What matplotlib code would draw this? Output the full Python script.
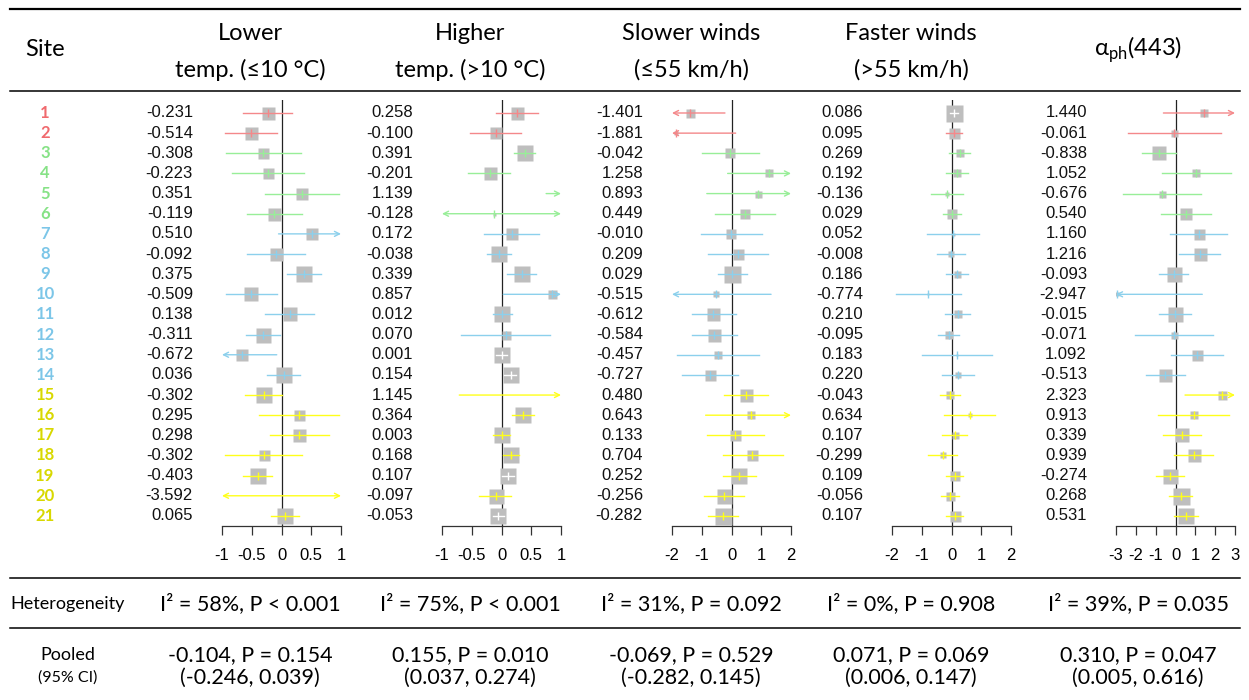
import numpy as np
import matplotlib.pyplot as plt
from matplotlib.lines import Line2D
from matplotlib.transforms import blended_transform_factory, ScaledTranslation

plt.rcParams['font.family'] = ['Lato', 'DejaVu Sans']
plt.rcParams['mathtext.fontset'] = 'custom'
plt.rcParams['mathtext.rm'] = 'Lato'

# ---- data ----
sites = list(range(1, 22))
site_group = ['r'] * 2 + ['g'] * 4 + ['b'] * 8 + ['y'] * 7

headers = ['Lower\ntemp. (≤10 °C)', 'Higher\ntemp. (>10 °C)', 'Slower winds\n(≤55 km/h)',
           'Faster winds\n(>55 km/h)', r'α$_{\mathrm{ph}}$(443)']

# lower temp
low_est = [-0.231, -0.514, -0.308, -0.223, 0.351, -0.119, 0.510, -0.092, 0.375, -0.509, 0.138,
           -0.311, -0.672, 0.036, -0.302, 0.295, 0.298, -0.302, -0.403, -3.592, 0.065]
low_lo = [-0.64, -0.95, -0.94, -0.84, -0.28, -0.58, -0.05, -0.58, 0.09, -0.94, -0.28,
          -0.60, -1.27, -0.25, -0.62, -0.37, -0.20, -0.95, -0.64, -8.40, -0.18]
low_hi = [0.18, -0.08, 0.33, 0.38, 0.97, 0.34, 1.07, 0.40, 0.66, -0.08, 0.55,
          -0.03, -0.08, 0.31, 0.01, 0.96, 0.80, 0.34, -0.16, 1.22, 0.30]
low_wt = [13, 13, 11, 11, 11.5, 13, 12, 13, 16, 14, 14, 15, 11.5, 16, 15.5, 11, 13, 11, 16.5, 10, 16.5]

# higher temp
high_est = [0.258, -0.100, 0.391, -0.201, 1.139, -0.128, 0.172, -0.038, 0.339, 0.857, 0.012,
            0.070, 0.001, 0.154, 1.145, 0.364, 0.003, 0.168, 0.107, -0.097, -0.053]
high_lo = [-0.10, -0.53, 0.21, -0.57, 0.75, -1.60, -0.29, -0.25, 0.09, 0.03, -0.15,
           -0.68, -0.10, 0.05, -0.71, 0.17, -0.14, 0.02, 0.00, -0.37, -0.15]
high_hi = [0.61, 0.32, 0.56, 0.15, 1.53, 1.35, 0.63, 0.16, 0.58, 1.68, 0.17,
           0.82, 0.10, 0.25, 3.00, 0.55, 0.14, 0.30, 0.21, 0.16, 0.05]
high_wt = [13, 12, 16, 13, 10, 3, 12, 16, 16, 9, 16.5, 9, 16.5, 16.5, 10, 16, 16, 16.5, 16.5, 15, 16.5]

# slower winds
slow_est = [-1.401, -1.881, -0.042, 1.258, 0.893, 0.449, -0.010, 0.209, 0.029, -0.515, -0.612,
            -0.584, -0.457, -0.727, 0.480, 0.643, 0.133, 0.704, 0.252, -0.256, -0.282]
slow_lo = [-2.58, -3.90, -1.00, -0.13, -0.83, -0.55, -1.04, -0.78, -0.46, -2.36, -1.34,
           -1.34, -1.84, -1.65, -0.24, -0.87, -0.81, -0.30, -0.30, -0.91, -0.78]
slow_hi = [-0.22, 0.14, 0.93, 2.65, 2.62, 1.46, 1.04, 1.22, 0.53, 1.33, 0.14,
           0.17, 0.93, 0.21, 1.22, 2.16, 1.10, 1.72, 0.81, 0.42, 0.23]
slow_wt = [9, 5, 10, 8, 7, 10, 10, 11, 17, 6, 13, 13, 8, 11, 13, 8, 11, 11, 16, 15, 17]

# faster winds
fast_est = [0.086, 0.095, 0.269, 0.192, -0.136, 0.029, 0.052, -0.008, 0.186, -0.774, 0.210,
            -0.095, 0.183, 0.220, -0.043, 0.634, 0.107, -0.299, 0.109, -0.056, 0.107]
fast_lo = [-0.05, -0.18, -0.08, -0.20, -0.69, -0.28, -0.83, -0.48, -0.20, -1.88, -0.22,
           -0.46, -1.00, -0.33, -0.39, -0.24, -0.33, -0.78, -0.18, -0.36, -0.18]
fast_hi = [0.22, 0.36, 0.62, 0.56, 0.40, 0.32, 0.93, 0.45, 0.56, 0.32, 0.62,
           0.26, 1.37, 0.76, 0.29, 1.46, 0.53, 0.17, 0.40, 0.25, 0.40]
fast_wt = [17, 11, 8, 8, 5, 10, 3, 6, 7, 2.5, 8, 8, 2, 6, 8, 4, 7, 6, 10, 9, 11]

# alpha_ph(443)
aph_est = [1.440, -0.061, -0.838, 1.052, -0.676, 0.540, 1.160, 1.216, -0.093, -2.947, -0.015,
           -0.071, 1.092, -0.513, 2.323, 0.913, 0.339, 0.939, -0.274, 0.268, 0.531]
aph_lo = [-0.61, -2.38, -1.71, -0.66, -2.66, -0.73, -0.28, 0.19, -0.82, -5.24, -0.82,
          -2.04, -0.23, -1.50, 0.48, -0.90, -0.61, -0.06, -1.00, -0.33, -0.08]
aph_hi = [3.49, 2.28, 0.01, 2.78, 1.29, 1.79, 2.58, 2.24, 0.61, 1.35, 0.78,
          1.88, 2.38, 0.48, 4.17, 2.70, 1.29, 1.91, 0.43, 0.85, 1.12]
aph_wt = [8, 7, 14, 8, 7, 12, 11, 13, 15, 4, 15, 7, 11, 13, 9, 8, 14, 13, 15, 17, 16]

ticks = [[-1, -0.5, 0, 0.5, 1], [-1, -0.5, 0, 0.5, 1], [-2, -1, 0, 1, 2], [-2, -1, 0, 1, 2],
         [-3, -2, -1, 0, 1, 2, 3]]
tick_labels = [['-1', '-0.5', '0', '0.5', '1'], ['-1', '-0.5', '0', '0.5', '1'],
               ['-2', '-1', '0', '1', '2'], ['-2', '-1', '0', '1', '2'],
               ['-3', '-2', '-1', '0', '1', '2', '3']]

het = ['I² = 58%, P < 0.001', 'I² = 75%, P < 0.001', 'I² = 31%, P = 0.092',
       'I² = 0%, P = 0.908', 'I² = 39%, P = 0.035']
pooled = ['-0.104, P = 0.154', '0.155, P = 0.010', '-0.069, P = 0.529',
          '0.071, P = 0.069', '0.310, P = 0.047']
pooled_ci = ['(-0.246, 0.039)', '(0.037, 0.274)', '(-0.282, 0.145)',
             '(0.006, 0.147)', '(0.005, 0.616)']

panels = [(low_est, low_lo, low_hi, low_wt), (high_est, high_lo, high_hi, high_wt),
          (slow_est, slow_lo, slow_hi, slow_wt), (fast_est, fast_lo, fast_hi, fast_wt),
          (aph_est, aph_lo, aph_hi, aph_wt)]

# ---- layout / style ----
W, H = 1249, 700
line_col = {'r': '#F4888A', 'g': '#98EE98', 'b': '#8CD0EC', 'y': '#FFFF1A'}
text_col = {'r': '#F06A6E', 'g': '#86E286', 'b': '#7CC6E8', 'y': '#D8D800'}
box_col = '#BEBEBE'
num_font = ['Liberation Sans', 'DejaVu Sans']

ax_left = [222, 442, 672, 892, 1116]
ax_w = 119
col_c = [250, 470, 691, 911, 1138]
site_x = 45
lab_x = 68


def fx(x):
    return x / W


def fy(y):
    return 1 - y / H


fig = plt.figure(figsize=(W / 100, H / 100), dpi=100)

for k, (est, lo, hi, wt) in enumerate(panels):
    ax = fig.add_axes([fx(ax_left[k]), fy(526), ax_w / W, 426 / H])
    lim = ticks[k][-1]
    ax.set_xlim(-lim, lim)
    ax.set_ylim(21.5, 0.355)
    for s in ['top', 'left', 'right']:
        ax.spines[s].set_visible(False)
    ax.spines['bottom'].set_color('#333333')
    ax.spines['bottom'].set_linewidth(0.9)
    ax.set_yticks([])
    ax.set_xticks(ticks[k])
    ax.set_xticklabels(tick_labels[k], fontfamily=num_font, fontsize=12)
    ax.tick_params(axis='x', direction='out', length=6.5, width=0.9, color='#333333', pad=9)
    ax.axvline(0, color='#222222', lw=0.9, zorder=1)

    unit_px = ax_w / (2 * lim)
    for i in range(len(sites)):
        r = sites[i]
        c = line_col[site_group[i]]
        e, a, b = est[i], lo[i], hi[i]
        half = wt[i] / 2 / unit_px
        inside = -lim <= e <= lim
        if inside:
            ax.plot([e], [r], marker='s', ms=wt[i] * 0.72, color=box_col, mec='none', zorder=2)
        cc = c
        if a >= e - half and b <= e + half:
            cc = 'white'
        a2, b2 = max(a, -lim), min(b, lim)
        if a < -lim and b > lim:
            st = '<->'
        elif a < -lim:
            st = '<-'
        elif b > lim:
            st = '->'
        else:
            st = None
        if st:
            ax.annotate('', xy=(b2, r), xytext=(a2, r),
                        arrowprops=dict(arrowstyle=st, color=cc, lw=1, mutation_scale=9,
                                        shrinkA=0, shrinkB=0), zorder=3)
        else:
            ax.plot([a2, b2], [r, r], color=cc, lw=1, zorder=3)
        if inside:
            ax.plot([e], [r], marker='|', ms=5.5, mew=1, color=cc, zorder=4)

    tr = blended_transform_factory(ax.transAxes, ax.transData) + \
        ScaledTranslation(-29 / 100, 0, fig.dpi_scale_trans)
    for i in range(len(sites)):
        ax.text(0, sites[i], '%.3f' % est[i], transform=tr, ha='right', va='center',
                fontsize=12, fontfamily=num_font, color='#111111')

    if k == 0:
        tr2 = blended_transform_factory(fig.transFigure, ax.transData)
        for i in range(len(sites)):
            ax.text(fx(site_x), sites[i], str(sites[i]), transform=tr2, ha='center',
                    va='center', fontsize=12, fontweight='bold',
                    color=text_col[site_group[i]])

# headers
fig.text(fx(site_x), fy(50), 'Site', ha='center', va='center', fontsize=17)
for k in range(5):
    if '\n' in headers[k]:
        l1, l2 = headers[k].split('\n')
        fig.text(fx(col_c[k]), fy(33), l1, ha='center', va='center', fontsize=17)
        fig.text(fx(col_c[k]), fy(70), l2, ha='center', va='center', fontsize=17)
    else:
        fig.text(fx(col_c[k]), fy(50), headers[k], ha='center', va='center', fontsize=17)

    fig.text(fx(col_c[k]), fy(604), het[k], ha='center', va='center', fontsize=15.5)
    fig.text(fx(col_c[k]), fy(655), pooled[k], ha='center', va='center', fontsize=15.5)
    fig.text(fx(col_c[k]), fy(678), pooled_ci[k], ha='center', va='center', fontsize=15.5)

fig.text(fx(lab_x), fy(604), 'Heterogeneity', ha='center', va='center', fontsize=13)
fig.text(fx(lab_x), fy(655), 'Pooled', ha='center', va='center', fontsize=13)
fig.text(fx(lab_x), fy(678), '(95% CI)', ha='center', va='center', fontsize=11.5)

# table rules
for y, lw in [(9, 1.6), (91, 1.1), (578, 1.1), (628, 1.1)]:
    fig.add_artist(Line2D([fx(10), fx(1240)], [fy(y), fy(y)], color='black', lw=lw))

fig.savefig('out.png', dpi=100)
